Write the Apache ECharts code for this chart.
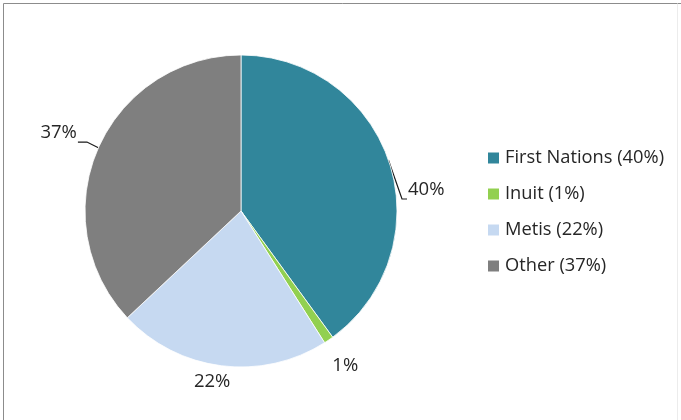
<!DOCTYPE html>
<html>
<head>
<meta charset="utf-8">
<script src="https://cdn.jsdelivr.net/npm/echarts@6/dist/echarts.min.js"></script>
<style>
  html, body { margin: 0; padding: 0; background: #fff; }
  #chart { width: 681px; height: 420px; }
</style>
</head>
<body>
<div id="chart"></div>
<script>
// Population shares by identity group (percent)
const categories = ['First Nations', 'Inuit', 'Metis', 'Other'];
const shares = [40, 1, 22, 37];
const sliceColors = ['#31869B', '#92D050', '#C6D9F1', '#7F7F7F'];

// Pie geometry
const cx = 241, cy = 211, R = 156;
const fontFamily = '"Open Sans", "Liberation Sans", sans-serif';
const textColor = '#262626';

// Polar helper: angle in degrees clockwise from 12 o'clock
function polar(angleDeg, dist) {
  const a = angleDeg * Math.PI / 180;
  return [cx + dist * Math.sin(a), cy - dist * Math.cos(a)];
}

// Label placement per slice (outside the pie)
const labelPlacement = [
  { arc: 70.9, bend: [85.74, 161.45], tail: 5, align: 'left', dy: -9 },
  { center: [146.1, 187] },
  { center: [189.6, 173] },
  { arc: 293.9, bend: [294.1, 168.8], tail: -9, align: 'right', dy: -9 }
];

const chart = echarts.init(document.getElementById('chart'), null, { renderer: 'canvas' });

chart.setOption({
  animation: false,
  backgroundColor: '#fff',
  color: sliceColors,
  graphic: [
    { type: 'line', shape: { x1: 3.5, y1: 3.5, x2: 681, y2: 3.5 }, style: { stroke: '#8c8c8c', lineWidth: 1 } },
    { type: 'line', shape: { x1: 3.5, y1: 3.5, x2: 3.5, y2: 420 }, style: { stroke: '#8c8c8c', lineWidth: 1 } },
    { type: 'line', shape: { x1: 677.5, y1: 3.5, x2: 677.5, y2: 420 }, style: { stroke: '#ececec', lineWidth: 1 } }
  ],
  legend: {
    orient: 'vertical',
    left: 486,
    top: 148,
    padding: 0,
    icon: 'rect',
    itemWidth: 13,
    itemHeight: 13,
    itemGap: 16,
    selectedMode: false,
    data: categories,
    formatter: function (name) {
      const i = categories.indexOf(name);
      return name + ' (' + shares[i] + '%)';
    },
    textStyle: {
      fontFamily: fontFamily,
      fontSize: 18.3,
      lineHeight: 20,
      color: textColor
    }
  },
  series: [{
    type: 'pie',
    center: [cx, cy],
    radius: R,
    startAngle: 90,
    clockwise: true,
    avoidLabelOverlap: false,
    itemStyle: { borderColor: '#ffffff', borderWidth: 0.8 },
    label: {
      show: true,
      position: 'outside',
      formatter: '{c}%',
      fontFamily: fontFamily,
      fontSize: 18.5,
      color: textColor
    },
    labelLine: {
      show: true,
      length: 10,
      length2: 8,
      lineStyle: { color: '#1a1a1a', width: 1.2, opacity: 1 }
    },
    labelLayout: function (params) {
      const p = labelPlacement[params.dataIndex];
      if (p.center) {
        const c = polar(p.center[0], p.center[1]);
        return { x: c[0], y: c[1], align: 'center', verticalAlign: 'middle' };
      }
      const a = polar(p.arc, R);
      const b = polar(p.bend[0], p.bend[1]);
      const t = [b[0] + p.tail, b[1]];
      const gap = p.tail > 0 ? 1 : -1;
      return {
        x: t[0] + gap,
        y: t[1] + p.dy,
        align: p.align,
        verticalAlign: 'middle',
        labelLinePoints: [a, b, t]
      };
    },
    data: categories.map(function (name, i) {
      const item = { name: name, value: shares[i] };
      if (labelPlacement[i].center) item.labelLine = { show: false };
      return item;
    })
  }]
});
</script>
</body>
</html>
